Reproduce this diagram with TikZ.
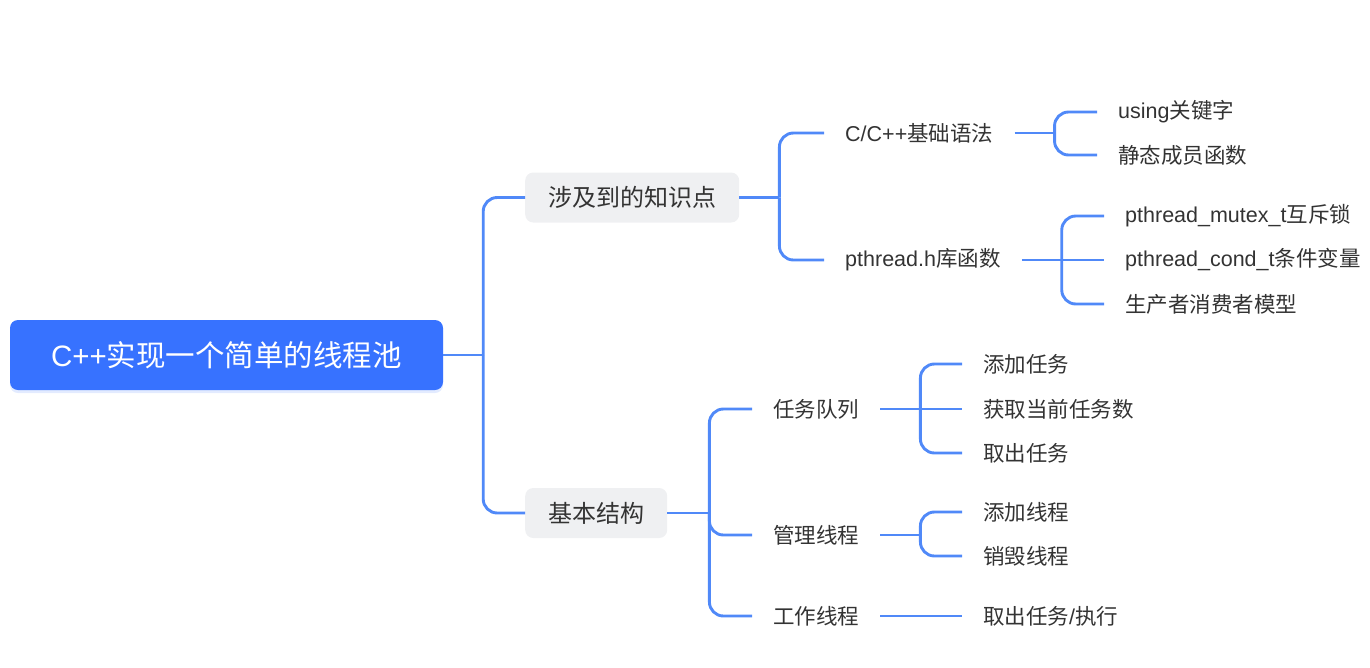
\documentclass[tikz,border=0pt]{standalone}
\usepackage{fontspec}
\setmainfont{Noto Sans CJK SC}
\newfontfamily\lat{Liberation Sans}
\usetikzlibrary{positioning, shadows}
\definecolor{RootBlue}{HTML}{3772FF}
\definecolor{LinkBlue}{HTML}{5089F8}
\definecolor{TopicGray}{HTML}{EFF0F2}
\definecolor{InkGray}{HTML}{333333}

\tikzset{
  rootbox/.style={fill=RootBlue, rounded corners=8pt, text=white,
      font=\fontsize{29.5}{34}\selectfont, minimum width=433pt, minimum height=70pt,
      drop shadow={shadow xshift=0pt, shadow yshift=-3pt, opacity=0.2, fill=RootBlue!70}},
  topic/.style={fill=TopicGray, rounded corners=8pt, text=InkGray,
      font=\fontsize{24}{28}\selectfont, inner xsep=23pt, minimum height=50pt, anchor=west},
  leaf/.style={text=InkGray, font=\fontsize{21.5}{26}\selectfont,
      inner xsep=21pt, inner ysep=2pt, anchor=west},
  link/.style={draw=LinkBlue, line width=2.9pt, rounded corners=14pt},
}

\begin{document}
\begin{tikzpicture}[x=1pt, y=-1pt]
\useasboundingbox (0,0) rectangle (1370,667);
% root
\node[rootbox] (root) at (226.5,355) {{\lat C++}实现一个简单的线程池};
% first level
\node[topic] (know) at (525,197.5) {涉及到的知识点};
\node[topic] (base) at (525,513) {基本结构};
% second level
\node[leaf] (syntax) at (824,133) {{\lat C/C++}基础语法};
\node[leaf] (pthr) at (824,260) {{\lat pthread.h}库函数};
\node[leaf] (queue) at (752,409) {任务队列};
\node[leaf] (manage) at (752,535) {管理线程};
\node[leaf] (worker) at (752,616) {工作线程};
% third level
\node[leaf] (using) at (1097,112) {{\lat using}关键字};
\node[leaf] (static) at (1097,155) {静态成员函数};
\node[leaf] (mutex) at (1104,216) {{\lat pthread\_mutex\_t}互斥锁};
\node[leaf] (cond) at (1104,260) {{\lat pthread\_cond\_t}条件变量};
\node[leaf] (model) at (1104,304) {生产者消费者模型};
\node[leaf] (addtask) at (962,364) {添加任务};
\node[leaf] (count) at (962,409) {获取当前任务数};
\node[leaf] (take) at (962,453) {取出任务};
\node[leaf] (addthr) at (962,512) {添加线程};
\node[leaf] (destroy) at (962,556) {销毁线程};
\node[leaf] (run) at (962,616) {取出任务{\lat /}执行};

% connectors
\draw[link] (root.east) -- ++(40,0) coordinate (rootfork);
\foreach \c in {know,base} \draw[link] (rootfork) |- (\c.west);
\draw[link] (know.east) -- ++(40,0) coordinate (knowfork);
\foreach \c in {syntax,pthr} \draw[link] (knowfork) |- (\c.west);
\draw[link] (base.east) -- ++(42,0) coordinate (basefork);
\foreach \c in {queue,manage,worker} \draw[link] (basefork) |- (\c.west);
\draw[link] (syntax.east) -- ++(40,0) coordinate (syntaxfork);
\foreach \c in {using,static} \draw[link] (syntaxfork) |- (\c.west);
\draw[link] (pthr.east) -- ++(40,0) coordinate (pthrfork);
\foreach \c in {mutex,model} \draw[link] (pthrfork) |- (\c.west);
\draw[link] (pthrfork) -- (cond.west);
\draw[link] (queue.east) -- ++(40,0) coordinate (queuefork);
\foreach \c in {addtask,take} \draw[link] (queuefork) |- (\c.west);
\draw[link] (queuefork) -- (count.west);
\draw[link] (manage.east) -- ++(40,0) coordinate (managefork);
\foreach \c in {addthr,destroy} \draw[link] (managefork) |- (\c.west);
\draw[link] (worker.east) -- (run.west);
\end{tikzpicture}
\end{document}
